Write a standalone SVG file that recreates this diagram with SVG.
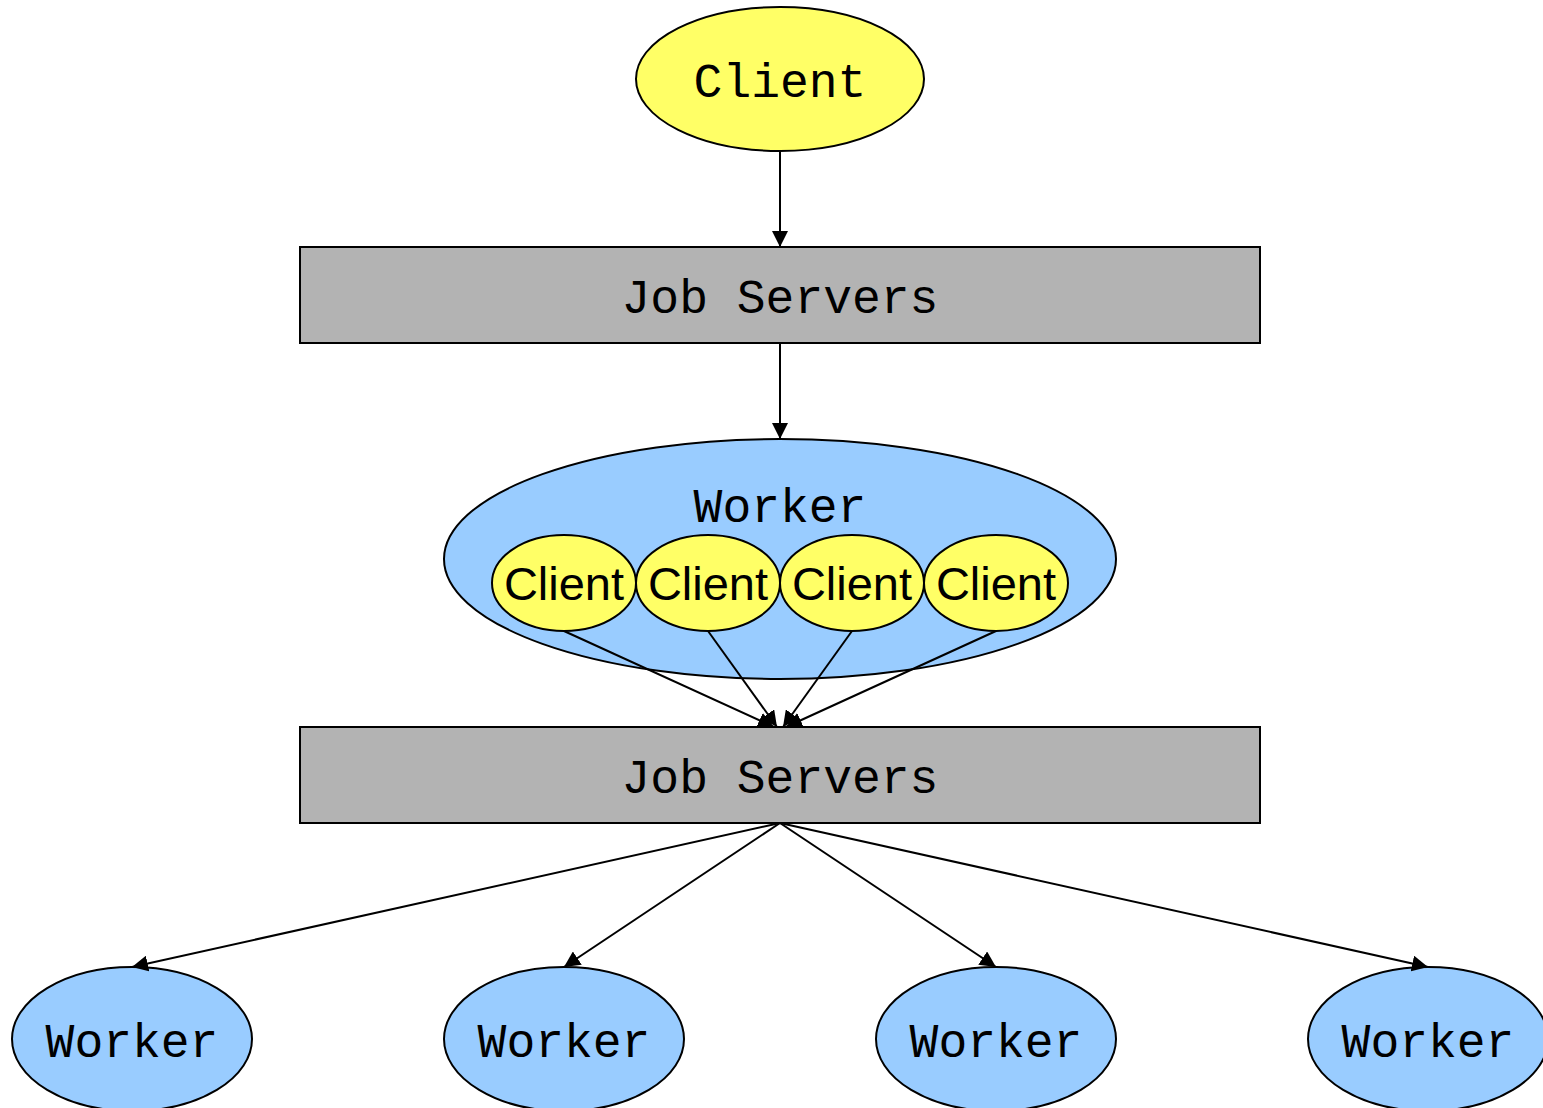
<svg xmlns="http://www.w3.org/2000/svg" width="1543" height="1108" viewBox="0 0 1543 1108">
<style>
.mono{font-family:"Liberation Mono","DejaVu Sans Mono",monospace;font-size:48px;fill:#000;text-anchor:middle}
.sans{font-family:"Liberation Sans",Arial,sans-serif;font-size:47px;fill:#000;text-anchor:middle}
.client{fill:#ffff66;stroke:#000;stroke-width:2}
.worker{fill:#99ccff;stroke:#000;stroke-width:2}
.js{fill:#b3b3b3;stroke:#000;stroke-width:2}
.edge{stroke:#000;stroke-width:2;fill:none;marker-end:url(#ah)}
</style>
<defs>
<marker id="ah" viewBox="0 0 10 10" refX="10" refY="5" markerWidth="16" markerHeight="16" markerUnits="userSpaceOnUse" orient="auto">
<path d="M0,0 L10,5 L0,10 z" fill="#000"/>
</marker>
</defs>
<rect width="1543" height="1108" fill="#fff"/>
<g id="client-top"><ellipse class="client" cx="780" cy="79" rx="144" ry="72"/><text class="mono" x="780" y="97">Client</text></g>
<g id="jobservers-1"><rect class="js" x="300" y="247" width="960" height="96"/><text class="mono" x="780" y="313">Job Servers</text></g>
<g id="worker-main"><ellipse class="worker" cx="780" cy="559" rx="336" ry="120"/><text class="mono" x="780" y="522">Worker</text></g>
<g id="client-1"><ellipse class="client" cx="564" cy="583" rx="72" ry="48"/><text class="sans" x="564" y="600">Client</text></g>
<g id="client-2"><ellipse class="client" cx="708" cy="583" rx="72" ry="48"/><text class="sans" x="708" y="600">Client</text></g>
<g id="client-3"><ellipse class="client" cx="852" cy="583" rx="72" ry="48"/><text class="sans" x="852" y="600">Client</text></g>
<g id="client-4"><ellipse class="client" cx="996" cy="583" rx="72" ry="48"/><text class="sans" x="996" y="600">Client</text></g>
<g id="jobservers-2"><rect class="js" x="300" y="727" width="960" height="96"/><text class="mono" x="780" y="793">Job Servers</text></g>
<g id="worker-1"><ellipse class="worker" cx="132" cy="1039" rx="120" ry="72"/><text class="mono" x="132" y="1057">Worker</text></g>
<g id="worker-2"><ellipse class="worker" cx="564" cy="1039" rx="120" ry="72"/><text class="mono" x="564" y="1057">Worker</text></g>
<g id="worker-3"><ellipse class="worker" cx="996" cy="1039" rx="120" ry="72"/><text class="mono" x="996" y="1057">Worker</text></g>
<g id="worker-4"><ellipse class="worker" cx="1428" cy="1039" rx="120" ry="72"/><text class="mono" x="1428" y="1057">Worker</text></g>
<g id="connectors">
<line class="edge" x1="780" y1="151" x2="780" y2="247"/>
<line class="edge" x1="780" y1="343" x2="780" y2="439"/>
<line class="edge" x1="564" y1="631" x2="774" y2="727"/>
<line class="edge" x1="708" y1="631" x2="777" y2="727"/>
<line class="edge" x1="852" y1="631" x2="783" y2="727"/>
<line class="edge" x1="996" y1="631" x2="786" y2="727"/>
<line class="edge" x1="780" y1="823" x2="132" y2="967"/>
<line class="edge" x1="780" y1="823" x2="564" y2="967"/>
<line class="edge" x1="780" y1="823" x2="996" y2="967"/>
<line class="edge" x1="780" y1="823" x2="1428" y2="967"/>
</g>
</svg>
